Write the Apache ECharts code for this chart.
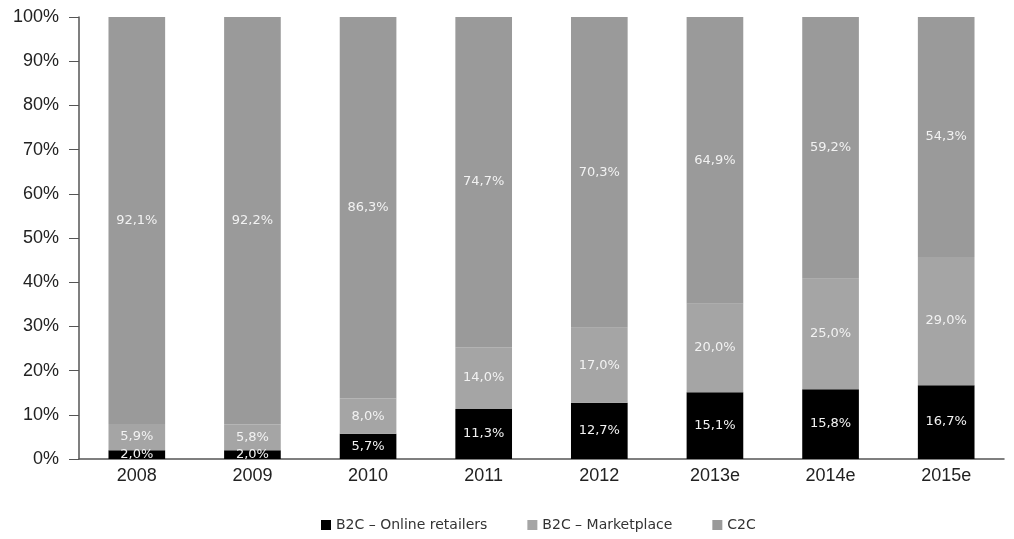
<!DOCTYPE html>
<html><head><meta charset="utf-8">
<script src="https://cdn.jsdelivr.net/npm/echarts@6/dist/echarts.min.js"></script>
<style>html,body{margin:0;padding:0;background:#fff}#c{width:1014px;height:539px}</style>
</head><body><div id="c"></div>
<script>
const categories = ['2008','2009','2010','2011','2012','2013e','2014e','2015e'];
const b2cOnline = [2.0, 2.0, 5.7, 11.3, 12.7, 15.1, 15.8, 16.7];
const b2cMarket = [5.9, 5.8, 8.0, 14.0, 17.0, 20.0, 25.0, 29.0];
const c2c = [92.1, 92.2, 86.3, 74.7, 70.3, 64.9, 59.2, 54.3];
const yTicks = [0,10,20,30,40,50,60,70,80,90,100];

const fmt = p => p.value.toFixed(1).replace('.', ',') + '%';
const lbl = {show:true, position:'inside', color:'#f2f2f2', fontSize:13, fontFamily:'DejaVu Sans', formatter: fmt};

const chart = echarts.init(document.getElementById('c'));
chart.setOption({
  animation:false,
  grid:{left:79, right:10, top:17, bottom:80},
  legend:{bottom:2, left:316, itemWidth:10, itemHeight:10, itemGap:40, icon:'rect',
    textStyle:{color:'#333', fontSize:14, fontFamily:'DejaVu Sans'},
    data:['B2C – Online retailers','B2C – Marketplace','C2C']},
  xAxis:{type:'category', data:categories,
    axisLine:{lineStyle:{color:'#555', width:1.5}}, axisTick:{show:false},
    axisLabel:{color:'#222', fontSize:18, margin:8, fontFamily:'Liberation Sans'}},
  yAxis:{type:'value', min:0, max:100, interval:10,
    axisLine:{show:true, lineStyle:{color:'#555', width:1.5}},
    axisTick:{show:true, length:10, lineStyle:{color:'#555'}},
    splitLine:{show:false},
    axisLabel:{color:'#222', fontSize:18, margin:20, fontFamily:'Liberation Sans', formatter: v => yTicks.includes(v) ? v + '%' : ''}},
  series:[
    {name:'B2C – Online retailers', type:'bar', stack:'s', data:b2cOnline, barWidth:'49%', itemStyle:{color:'#000'}, label:lbl},
    {name:'B2C – Marketplace', type:'bar', stack:'s', data:b2cMarket, itemStyle:{color:'#a5a5a5'}, label:lbl},
    {name:'C2C', type:'bar', stack:'s', data:c2c, itemStyle:{color:'#9a9a9a'}, label:lbl}
  ]
});
</script></body></html>
